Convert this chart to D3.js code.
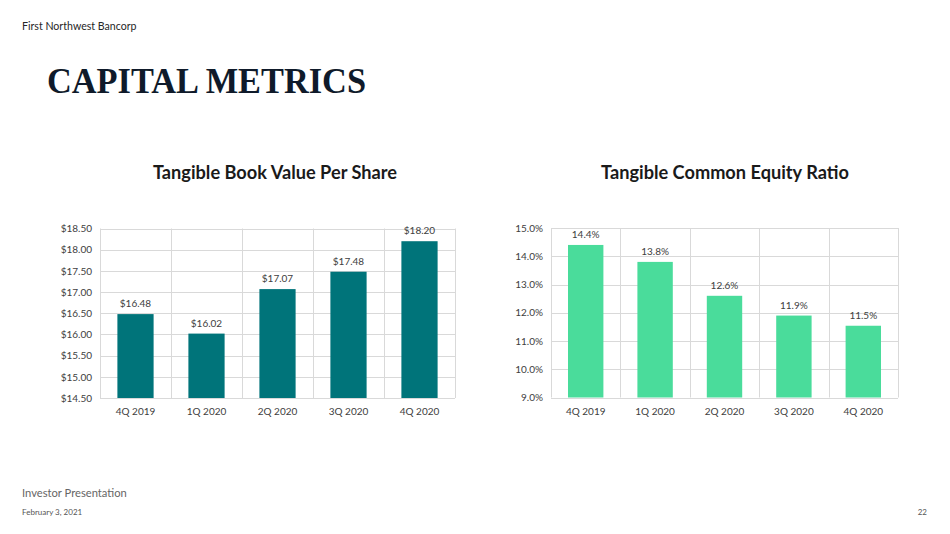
<!DOCTYPE html>
<html><head><meta charset="utf-8">
<script src="https://cdn.jsdelivr.net/npm/d3@7"></script>
<style>
body{margin:0;background:#fff;}
svg{display:block;}
</style></head>
<body>
<svg id="c" width="950" height="534"></svg>
<script>
const categories = ["4Q 2019","1Q 2020","2Q 2020","3Q 2020","4Q 2020"];
const tbvValues = [16.48, 16.02, 17.07, 17.48, 18.20];
const tceValues = [14.4, 13.8, 12.6, 11.9, 11.54];
const tbvTicks = [14.5,15,15.5,16,16.5,17,17.5,18,18.5];
const tceTicks = [9,10,11,12,13,14,15];

const svg = d3.select("#c");
const font = "Lato, 'Open Sans', sans-serif";

svg.append("text").attr("x",22).attr("y",30).attr("font-family",font)
  .attr("font-size",10.6).attr("fill","#262626").text("First Northwest Bancorp");
svg.append("text").attr("x",47).attr("y",93).attr("font-family","'Liberation Serif', 'Times New Roman', serif")
  .attr("font-weight","bold").attr("font-size",36).attr("fill","#0f1a2a")
  .attr("textLength",319).attr("lengthAdjust","spacingAndGlyphs").text("CAPITAL METRICS");
svg.append("text").attr("x",22).attr("y",497).attr("font-family",font)
  .attr("font-size",11.2).attr("fill","#666").text("Investor Presentation");
svg.append("text").attr("x",22).attr("y",515).attr("font-family",font)
  .attr("font-size",8).attr("fill","#555").text("February 3, 2021");
svg.append("text").attr("x",927).attr("y",515).attr("text-anchor","end").attr("font-family",font)
  .attr("font-size",8).attr("fill","#555").text("22");

function chart(opts){
  const g = svg.append("g");
  const x = d3.scaleBand().domain(categories).range([opts.x0, opts.x1]).paddingInner(0).paddingOuter(0);
  const y = d3.scaleLinear().domain(opts.domain).range([opts.yb, opts.yt]);
  // title
  g.append("text").attr("x",opts.tx).attr("y",179).attr("text-anchor","middle")
    .attr("font-family",font).attr("font-weight","bold").attr("font-size",18.2).attr("fill","#1a1a1a").text(opts.title);
  // horizontal grid
  g.selectAll(".hg").data(opts.ticks).join("line")
    .attr("x1",opts.x0).attr("x2",opts.x1).attr("y1",d=>Math.round(y(d))+0.5).attr("y2",d=>Math.round(y(d))+0.5)
    .attr("stroke","#d9d9d9").attr("stroke-width",1);
  // vertical grid at band edges
  const edges = categories.map(c=>x(c)).concat([opts.x1]);
  g.selectAll(".vg").data(edges).join("line")
    .attr("x1",d=>Math.round(d)+0.5).attr("x2",d=>Math.round(d)+0.5).attr("y1",opts.yt).attr("y2",opts.yb)
    .attr("stroke","#d9d9d9").attr("stroke-width",1);
  // bars
  const bw = x.bandwidth()*0.51;
  g.selectAll(".bar").data(opts.values).join("rect")
    .attr("x",(d,i)=>x(categories[i])+x.bandwidth()/2-bw/2).attr("width",bw)
    .attr("y",d=>y(d)).attr("height",d=>y(opts.domain[0])-y(d)).attr("fill",opts.color);
  // labels
  g.selectAll(".lab").data(opts.values).join("text")
    .attr("x",(d,i)=>x(categories[i])+x.bandwidth()/2).attr("y",d=>y(d)-7)
    .attr("text-anchor","middle").attr("font-family",font).attr("font-size",10).attr("fill","#404040")
    .text(opts.labFmt);
  // y axis
  const ya = d3.axisLeft(y).tickValues(opts.ticks).tickFormat(opts.tickFmt).tickSize(0).tickPadding(8);
  const yg = g.append("g").attr("transform",`translate(${opts.x0},0)`).call(ya);
  yg.select(".domain").remove();
  yg.selectAll("text").attr("font-family",font).attr("font-size",10).attr("fill","#404040");
  // x axis
  const xa = d3.axisBottom(x).tickSize(0).tickPadding(10);
  const xg = g.append("g").attr("transform",`translate(0,${opts.yb})`).call(xa);
  xg.select(".domain").remove();
  xg.selectAll("text").attr("font-family",font).attr("font-size",10).attr("fill","#404040");
}

chart({x0:100,x1:455,yt:228.5,yb:398,domain:[14.5,18.5],ticks:tbvTicks,values:tbvValues,
  color:"#00747a",title:"Tangible Book Value Per Share",tx:275,
  labFmt:d=>"$"+d3.format(".2f")(d), tickFmt:d=>"$"+d3.format(".2f")(d)});
chart({x0:551,x1:898,yt:228,yb:397.5,domain:[9,15],ticks:tceTicks,values:tceValues,
  color:"#4adc9b",title:"Tangible Common Equity Ratio",tx:725,
  labFmt:d=>d3.format(".1f")(d)+"%", tickFmt:d=>d3.format(".1f")(d)+"%"});
</script>
</body></html>
